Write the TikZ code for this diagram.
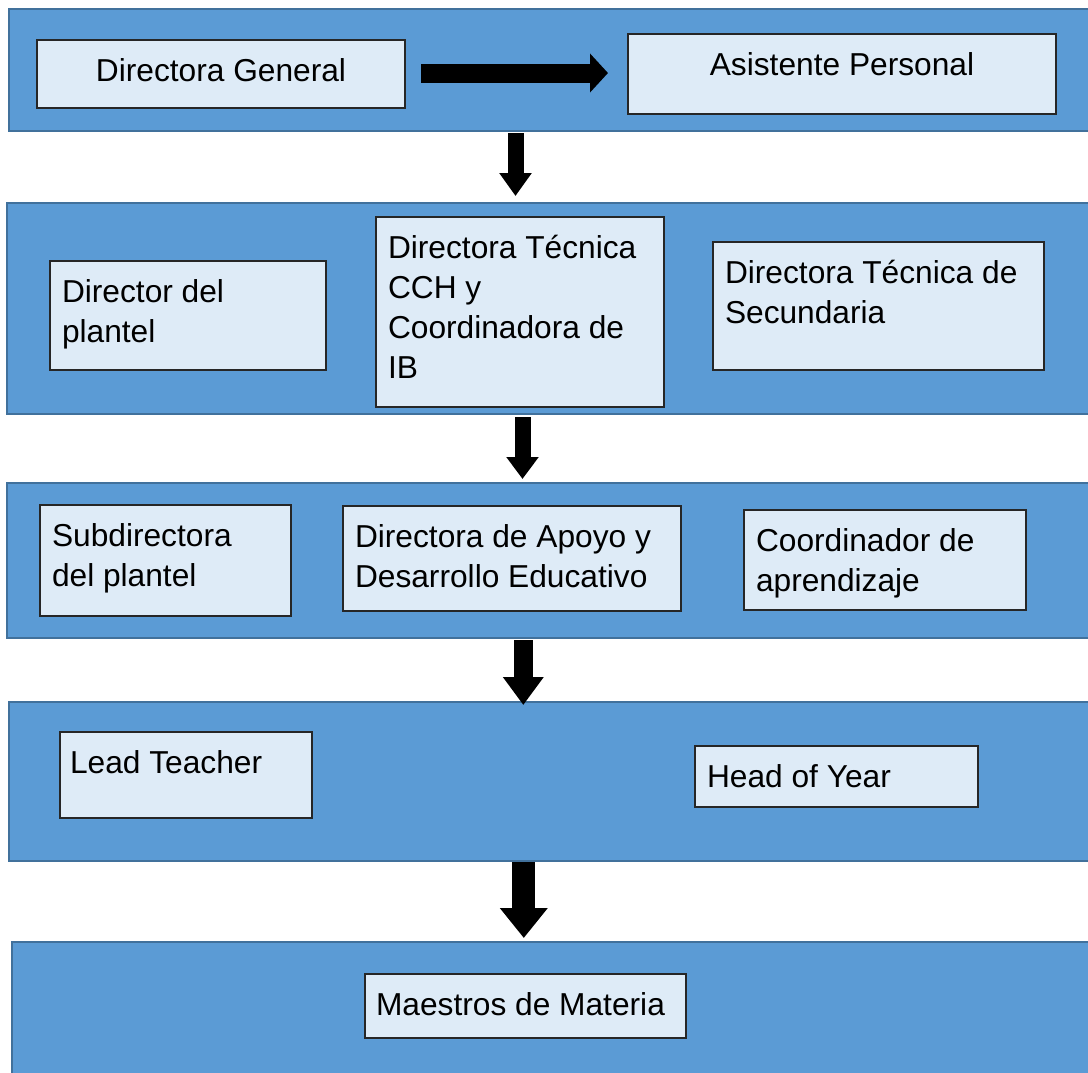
\documentclass[tikz,border=0pt]{standalone}
\usepackage{fontspec}
\setmainfont{Liberation Sans}
\usetikzlibrary{arrows.meta}
\definecolor{bandfill}{HTML}{5B9BD5}
\definecolor{bandline}{HTML}{41719C}
\definecolor{boxfill}{HTML}{DEEBF7}
\newcommand{\boxtext}[4]{\begin{minipage}[t][#2][t]{#1}\fontsize{31.7}{40}\selectfont#3\rule{0pt}{41pt}#4\end{minipage}}
\newcommand{\txtleft}{\raggedright\leftskip=12pt\relax}
\newcommand{\txtcenter}{\centering}
\tikzset{
  band/.style={draw=bandline, line width=2.5pt, fill=bandfill, inner sep=0pt, outer sep=0pt, anchor=north west, minimum width=1100pt},
  orgbox/.style={draw=black!85, line width=1.3pt, fill=boxfill, inner sep=0pt, outer sep=0pt, anchor=north west},
  flowarrow/.style={draw=black, line width=#1},
}
\begin{document}
\begin{tikzpicture}[x=1pt,y=-1pt]
\useasboundingbox (0,0) rectangle (1088,1072);
\clip (0,0) rectangle (1088,1072);
% bands
\node[band, minimum height=122pt] (b1) at (9,9) {};
\node[band, minimum height=211pt] (b2) at (7,203) {};
\node[band, minimum height=155pt] (b3) at (7,483) {};
\node[band, minimum height=159pt] (b4) at (9,702) {};
\node[band, minimum height=200pt] (b5) at (12,942) {};
% boxes
\node[orgbox] (dg) at (37,40) {\boxtext{368pt}{68pt}{\txtcenter}{Directora General}};
\node[orgbox] (ap) at (628,34) {\boxtext{428pt}{80pt}{\txtcenter}{Asistente Personal}};
\node[orgbox] (dp) at (50,261) {\boxtext{276pt}{109pt}{\txtleft}{Director del\\plantel}};
\node[orgbox] (cch) at (376,217) {\boxtext{288pt}{190pt}{\txtleft}{Directora Técnica\\CCH y\\Coordinadora de\\IB}};
\node[orgbox] (sec) at (713,242) {\boxtext{331pt}{128pt}{\txtleft}{Directora Técnica de\\Secundaria}};
\node[orgbox] (sub) at (40,505) {\boxtext{251pt}{111pt}{\txtleft}{Subdirectora\\del plantel}};
\node[orgbox] (apo) at (343,506) {\boxtext{338pt}{105pt}{\txtleft}{Directora de Apoyo y\\Desarrollo Educativo}};
\node[orgbox] (coo) at (744,510) {\boxtext{282pt}{100pt}{\txtleft}{Coordinador de\\aprendizaje}};
\node[orgbox] (lt) at (60,732) {\boxtext{252pt}{86pt}{\raggedright\leftskip=10pt\relax}{Lead Teacher}};
\node[orgbox] (hy) at (695,746) {\boxtext{283pt}{61pt}{\txtleft}{Head of Year}};
\node[orgbox] (mm) at (365,974) {\boxtext{321pt}{64pt}{\raggedright\leftskip=11pt\relax}{Maestros de Materia}};
% arrows
\draw[flowarrow=19pt, -{Triangle[length=18pt,width=38pt]}, shorten <=16pt, shorten >=20pt] ([yshift=1pt]dg.east) -- ([yshift=1pt]ap.west);
\coordinate (a1s) at (515.5,133); \coordinate (a1e) at (515.5,196);
\coordinate (a2s) at (522.5,417); \coordinate (a2e) at (522.5,479);
\coordinate (a3s) at (523.3,640); \coordinate (a3e) at (523.3,705);
\coordinate (a4s) at (523.8,862); \coordinate (a4e) at (523.8,938);
\draw[flowarrow=16pt, -{Triangle[length=23pt,width=31pt]}] (a1s) -- (a1e);
\draw[flowarrow=16pt, -{Triangle[length=22pt,width=31pt]}] (a2s) -- (a2e);
\draw[flowarrow=19pt, -{Triangle[length=28pt,width=39pt]}] (a3s) -- (a3e);
\draw[flowarrow=23pt, -{Triangle[length=30pt,width=46pt]}] (a4s) -- (a4e);
\end{tikzpicture}
\end{document}
